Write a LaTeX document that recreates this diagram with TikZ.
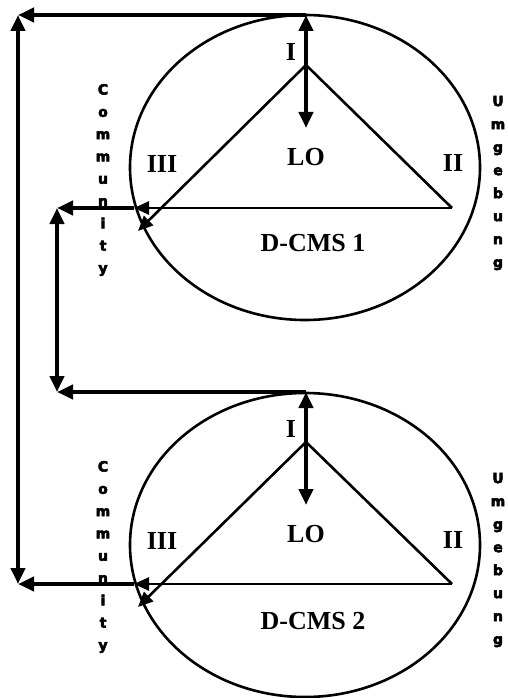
\documentclass[tikz,border=0pt]{standalone}
\usepackage{fontspec}
\setmainfont{Liberation Serif}
\newfontfamily\heavysans[BoldFeatures={FakeBold=4}]{DejaVu Sans}
\usetikzlibrary{arrows.meta}
\tikzset{
  outline/.style={line width=2.6pt},
  thinarrow/.style={line width=2.6pt,-{Triangle[length=15pt,width=13pt]}},
  thickline/.style={line width=4pt},
  thickarrow/.style={line width=4pt,-{Triangle[length=16pt,width=14pt]}},
  thickdouble/.style={line width=4pt,{Triangle[length=16pt,width=14pt]}-{Triangle[length=16pt,width=14pt]}},
  lbl/.style={font=\fontsize{26}{30}\selectfont\bfseries, inner sep=0pt},
  vlbl/.style={font=\heavysans\bfseries\fontsize{14}{22.3}\selectfont, align=center, inner sep=0pt},
  vlblb/.style={font=\heavysans\bfseries\fontsize{14}{23}\selectfont, align=center, inner sep=0pt}
}
\begin{document}
\begin{tikzpicture}[x=1pt,y=-1pt]
\useasboundingbox (0,0) rectangle (507,698);
% ---------- block 1 ----------
\draw[outline] (305,167.5) ellipse [x radius=175, y radius=152.5];
\coordinate (T1) at (306,15);
\coordinate (A1) at (306,65);
\coordinate (D1) at (306,128);
\coordinate (L1) at (160,208);
\coordinate (R1) at (452,208);
\coordinate (E1) at (134,208);
\coordinate (F1) at (138,231);
\coordinate (G1) at (57,208);
\draw[outline] (A1) -- (R1);
\draw[thinarrow] (R1) -- (E1);
\draw[thinarrow] (A1) -- (F1);
\draw[thickdouble] (D1) -- (T1);
\node[lbl] (i1) at (291,52) {I};
\node[lbl] (ii1) at (453,163) {II};
\node[lbl] (iii1) at (162,164) {III};
\node[lbl] (lo1) at (306,157) {LO};
\node[lbl] (dcms1) at (313,243) {D-CMS 1};
\node[vlbl] (comm1) at (103,180) {C\\o\\m\\m\\u\\n\\i\\t\\y};
\node[vlblb] (umg1) at (498,183) {U\\m\\g\\e\\b\\u\\n\\g};
% ---------- block 2 ----------
\draw[outline] (305,545) ellipse [x radius=175, y radius=152];
\coordinate (T2) at (306,392);
\coordinate (A2) at (306,442);
\coordinate (D2) at (306,505);
\coordinate (L2) at (160,584);
\coordinate (R2) at (452,584);
\coordinate (E2) at (134,584);
\coordinate (F2) at (138,607);
\coordinate (G2) at (18,584);
\draw[outline] (A2) -- (R2);
\draw[thinarrow] (R2) -- (E2);
\draw[thinarrow] (A2) -- (F2);
\draw[thickdouble] (D2) -- (T2);
\node[lbl] (i2) at (291,429) {I};
\node[lbl] (ii2) at (453,540) {II};
\node[lbl] (iii2) at (162,541) {III};
\node[lbl] (lo2) at (306,534) {LO};
\node[lbl] (dcms2) at (313,621) {D-CMS 2};
\node[vlbl] (comm2) at (103,557) {C\\o\\m\\m\\u\\n\\i\\t\\y};
\node[vlblb] (umg2) at (498,560) {U\\m\\g\\e\\b\\u\\n\\g};
% ---------- connectors ----------
\coordinate (K) at (18,15);
\coordinate (H1) at (57,392);
\draw[thickarrow] (T1) -- (K);
\draw[thickdouble] (G2) -- (K);
\draw[thickarrow] (E1) -- (G1);
\draw[thickdouble] (H1) -- (G1);
\draw[thickarrow] (T2) -- (H1);
\draw[thickarrow] (E2) -- (G2);
\end{tikzpicture}
\end{document}
